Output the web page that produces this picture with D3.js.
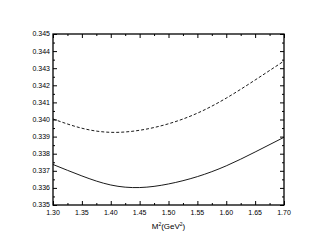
<!DOCTYPE html>
<html>
<head>
<meta charset="utf-8">
<script src="https://cdn.jsdelivr.net/npm/d3@7"></script>
<style>
  body { margin: 0; background: #fff; }
  svg text { font-family: "Liberation Sans", Arial, sans-serif; }
</style>
</head>
<body>
<svg id="chart" width="317" height="249"></svg>
<script>
// data
var m2 = [1.30, 1.35, 1.40, 1.45, 1.50, 1.55, 1.60, 1.65, 1.70];
var solidVals = [0.33737, 0.33670, 0.33617, 0.33602, 0.33623, 0.33666, 0.33729, 0.33810, 0.33896];
var dashedVals = [0.34003, 0.33949, 0.33925, 0.33937, 0.33975, 0.34037, 0.34125, 0.34231, 0.34342];
var xTicks = [1.30, 1.35, 1.40, 1.45, 1.50, 1.55, 1.60, 1.65, 1.70];
var yTicks = [0.335, 0.336, 0.337, 0.338, 0.339, 0.340, 0.341, 0.342, 0.343, 0.344, 0.345];

var svg = d3.select('#chart'),
    margin = { top: 34, right: 33, bottom: 44, left: 53 },
    width = +svg.attr("width") - margin.left - margin.right,
    height = +svg.attr("height") - margin.top - margin.bottom,
    g = svg.append("g").attr("transform", "translate(" + margin.left + "," + margin.top + ")");

var x = d3.scaleLinear().domain([1.30, 1.70]).range([0, width]);
var y = d3.scaleLinear().domain([0.335, 0.345]).range([height, 0]);

// minor ticks halfway between majors
var xMinor = d3.range(1.325, 1.70, 0.05);
var yMinor = d3.range(0.3355, 0.345, 0.001);

function tickAxis(axis, scale, vals, size) {
    return axis(scale).tickValues(vals).tickSize(size).tickFormat("");
}

// inward ticks on all four sides
g.append("g").attr("class", "axis").attr("transform", "translate(0," + height + ")")
    .call(tickAxis(d3.axisTop, x, xMinor, 2));
g.append("g").attr("class", "axis").attr("transform", "translate(0," + height + ")")
    .call(d3.axisTop(x).tickValues(xTicks).tickSize(4).tickFormat(""));
g.append("g").attr("class", "axis")
    .call(tickAxis(d3.axisBottom, x, xMinor, 2));
g.append("g").attr("class", "axis")
    .call(tickAxis(d3.axisBottom, x, xTicks, 4));
g.append("g").attr("class", "axis")
    .call(tickAxis(d3.axisRight, y, yMinor, 2));
g.append("g").attr("class", "axis")
    .call(tickAxis(d3.axisRight, y, yTicks, 4));
g.append("g").attr("class", "axis").attr("transform", "translate(" + width + ",0)")
    .call(tickAxis(d3.axisLeft, y, yMinor, 2));
g.append("g").attr("class", "axis").attr("transform", "translate(" + width + ",0)")
    .call(tickAxis(d3.axisLeft, y, yTicks, 4));

g.selectAll(".axis .domain").remove();
g.selectAll(".axis .tick line").attr("stroke", "#000").attr("stroke-width", 1);

// frame
g.append("rect")
    .attr("width", width)
    .attr("height", height)
    .attr("fill", "none")
    .attr("stroke", "#000")
    .attr("stroke-width", 1.3);

// tick labels
g.selectAll(".xlab")
    .data(xTicks)
    .enter().append("text")
    .attr("x", function (d) { return x(d); })
    .attr("y", height + 10)
    .attr("text-anchor", "middle")
    .attr("font-size", 7)
    .text(function (d) { return d.toFixed(2); });

g.selectAll(".ylab")
    .data(yTicks)
    .enter().append("text")
    .attr("x", -3)
    .attr("y", function (d) { return y(d); })
    .attr("dy", "0.35em")
    .attr("text-anchor", "end")
    .attr("font-size", 7)
    .text(function (d) { return d.toFixed(3); });

// axis title
var title = g.append("text")
    .attr("x", width / 2)
    .attr("y", height + 24)
    .attr("text-anchor", "middle")
    .attr("font-size", 8);
title.append("tspan").text("M");
title.append("tspan").attr("font-size", 5).attr("dy", -3).text("2");
title.append("tspan").attr("dy", 3).text("(GeV");
title.append("tspan").attr("font-size", 5).attr("dy", -3).text("2");
title.append("tspan").attr("dy", 3).text(")");

// curves
var line = d3.line()
    .x(function (d) { return x(d[0]); })
    .y(function (d) { return y(d[1]); })
    .curve(d3.curveNatural);

g.append("path")
    .datum(d3.zip(m2, solidVals))
    .attr("fill", "none")
    .attr("stroke", "#000")
    .attr("stroke-width", 0.9)
    .attr("d", line);

g.append("path")
    .datum(d3.zip(m2, dashedVals))
    .attr("fill", "none")
    .attr("stroke", "#000")
    .attr("stroke-width", 0.9)
    .attr("stroke-dasharray", "3,2")
    .attr("d", line);
</script>
</body>
</html>
